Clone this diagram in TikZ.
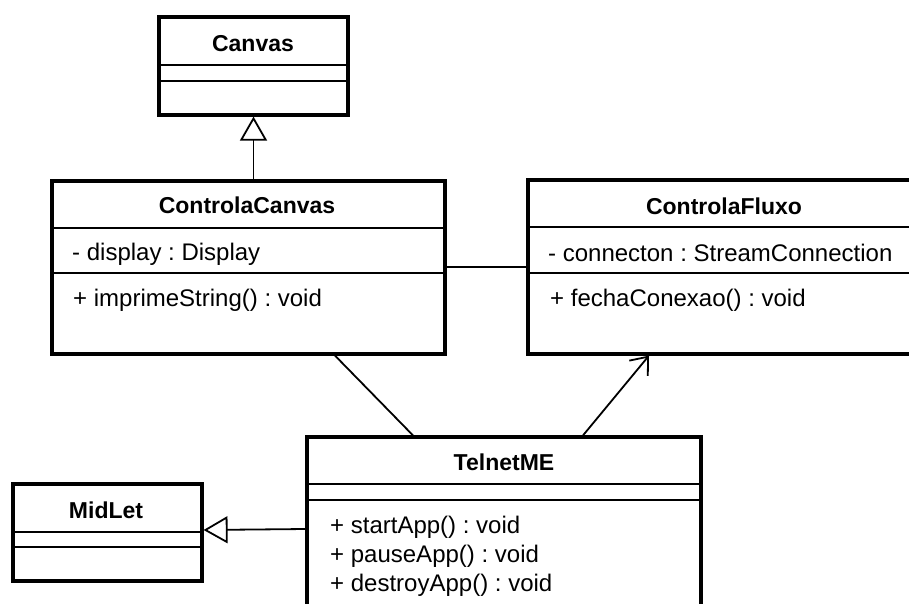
\documentclass[tikz,border=0pt]{standalone}
\usepackage{fontspec}
\setmainfont{Liberation Sans}
\usetikzlibrary{arrows.meta}
\frenchspacing

\tikzset{
  umlbox/.style={draw, line width=3.2pt, inner sep=0pt, minimum width=#1},
  divider/.style={line width=1.8pt},
  classtitle/.style={anchor=base, inner sep=0pt, font=\fontsize{23}{28}\selectfont\bfseries},
  member/.style={anchor=base west, inner sep=0pt, font=\fontsize{24}{29}\selectfont},
  assoc/.style={line width=1.8pt},
  inherit/.style={line width=1.8pt, -{Triangle[open, length=24pt, width=27pt, line width=1.8pt]}},
  navig/.style={line width=1.8pt, -{Straight Barb[length=15pt, width=24pt, line width=1.8pt]}}
}

\begin{document}
\begin{tikzpicture}[x=1pt, y=-1pt]
\useasboundingbox (0,0) rectangle (909,604);

% class boxes
\node[umlbox=189pt, minimum height=98pt]  (canvas) at (253.5,66)   {};
\node[umlbox=393pt, minimum height=173pt] (cc)     at (248.5,267.5) {};
\node[umlbox=392pt, minimum height=174pt] (fluxo)  at (724,267)    {};
\node[umlbox=394pt, minimum height=183pt] (telnet) at (504,528.5)  {};
\node[umlbox=189pt, minimum height=97pt]  (midlet) at (107.5,532.5) {};

% compartment separators
\foreach \b/\ya/\yb in {canvas/65/81, cc/228/273, fluxo/227/273, telnet/484/500, midlet/532/547}{
  \draw[divider] (\b.west |- 0,\ya) -- (\b.east |- 0,\ya);
  \draw[divider] (\b.west |- 0,\yb) -- (\b.east |- 0,\yb);
}

% Canvas
\node[classtitle] (canvasT) at (253,52) {Canvas};

% ControlaCanvas
\node[classtitle] (ccT) at (247,213) {ControlaCanvas};
\node[member] (ccA) at (72,260) {- display : Display};
\node[member] (ccM) at (73,306) {+ imprimeString() : void};

% ControlaFluxo
\node[classtitle] (fluxoT) at (724,214) {ControlaFluxo};
\node[member] (fluxoA) at (548,261) {- connecton : StreamConnection};
\node[member] (fluxoM) at (550,306) {+ fechaConexao() : void};

% TelnetME
\node[classtitle] (telnetT) at (504,470) {TelnetME};
\node[member] (telnetM1) at (330,533) {+ startApp() : void};
\node[member] (telnetM2) at (330,562) {+ pauseApp() : void};
\node[member] (telnetM3) at (330,591) {+ destroyApp() : void};

% MidLet
\node[classtitle] (midletT) at (106,518) {MidLet};

% relations
\draw[inherit] (canvas.south |- cc.north) -- (canvas.south);
\draw[inherit] (telnet.west |- 0,529) -- (midlet.east |- 0,530);
\draw[assoc] (cc.east |- 0,267) -- (fluxo.west |- 0,267);
\draw[assoc] (cc.south -| 335,0) -- (telnet.north -| 413,0);
\draw[navig] (telnet.north -| 583,0) -- (fluxo.south -| 649,0);
\end{tikzpicture}
\end{document}
